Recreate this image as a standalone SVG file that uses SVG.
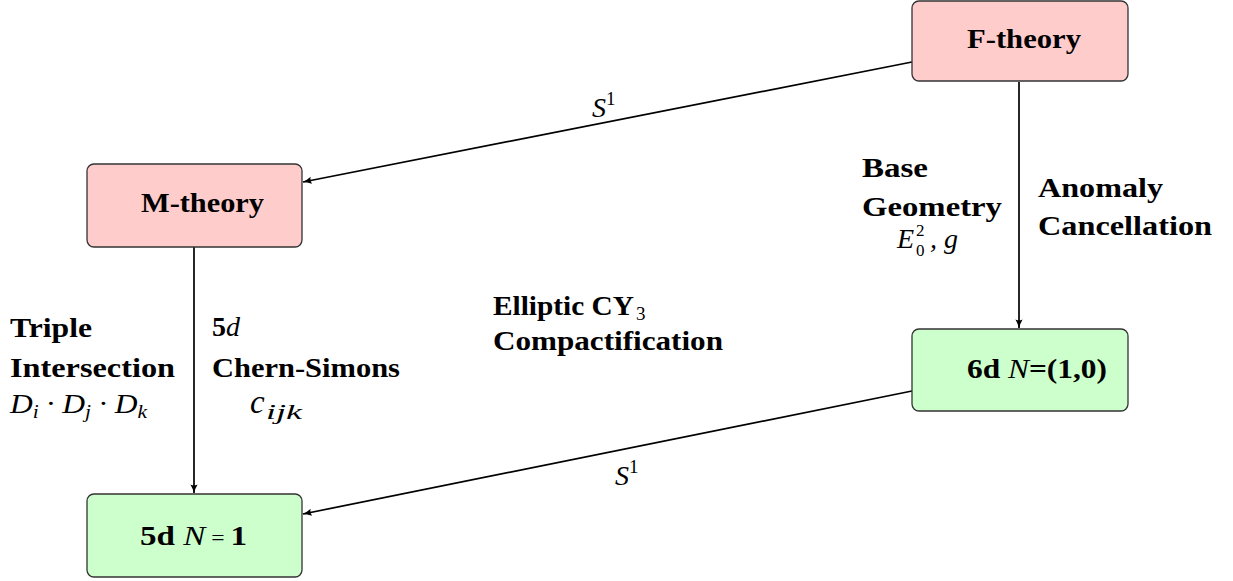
<svg xmlns="http://www.w3.org/2000/svg" width="1233" height="581" viewBox="0 0 1233 581">
<style>
.box{stroke:#333;stroke-width:1.3}
.pink{fill:#ffcccc}
.green{fill:#ccffcc}
.b{font-family:"Liberation Serif","Times New Roman",serif;font-weight:bold;font-size:28px;fill:#000}
.m{font-family:"Liberation Serif","Times New Roman",serif;font-style:italic;font-size:28px;fill:#000}
.r{font-family:"Liberation Serif","Times New Roman",serif;font-size:19px;fill:#000}
.s{font-family:"Liberation Serif","Times New Roman",serif;font-size:17px;fill:#000}
.si{font-family:"Liberation Serif","Times New Roman",serif;font-style:italic;font-size:19px;fill:#000}
.edge{stroke:#000;stroke-width:1.7;fill:none}
</style>
<defs>
<marker id="arr" viewBox="0 0 10 10" refX="9.5" refY="5" markerWidth="9" markerHeight="9" orient="auto" markerUnits="userSpaceOnUse">
<path d="M0,1 Q5,4 10,5 Q5,6 0,9 Q2,5 0,1 Z" fill="#000"/>
</marker>
</defs>
<g id="connectors">
<line class="edge" x1="912" y1="62" x2="303" y2="182" marker-end="url(#arr)"/>
<line class="edge" x1="1019" y1="82" x2="1019" y2="328" marker-end="url(#arr)"/>
<line class="edge" x1="194" y1="247" x2="194" y2="493" marker-end="url(#arr)"/>
<line class="edge" x1="912" y1="391" x2="303" y2="514" marker-end="url(#arr)"/>
</g>
<g id="node-ftheory">
<rect class="box pink" x="912" y="1" width="216" height="80" rx="7"/>
<text class="b" x="967" y="48" textLength="114" lengthAdjust="spacingAndGlyphs">F-theory</text>
</g>
<g id="node-mtheory">
<rect class="box pink" x="87" y="164" width="215" height="83" rx="7"/>
<text class="b" x="141" y="212" textLength="123" lengthAdjust="spacingAndGlyphs">M-theory</text>
</g>
<g id="node-6d">
<rect class="box green" x="912" y="329" width="216" height="82" rx="7"/>
<text x="967" y="378" textLength="140" lengthAdjust="spacingAndGlyphs"><tspan class="b">6d </tspan><tspan class="m">N</tspan><tspan class="b">=(1,0)</tspan></text>
</g>
<g id="node-5d">
<rect class="box green" x="87" y="494" width="215" height="83" rx="7"/>
<text x="140" y="545" textLength="107" lengthAdjust="spacingAndGlyphs"><tspan class="b">5d </tspan><tspan class="m">N</tspan><tspan class="b" style="font-weight:normal;font-size:20px"> = </tspan><tspan class="b">1</tspan></text>
</g>
<g id="labels">
<text x="592" y="117"><tspan class="m">S</tspan><tspan class="r" dy="-12">1</tspan></text>
<text x="615" y="485"><tspan class="m">S</tspan><tspan class="r" dy="-12">1</tspan></text>
<text class="b" x="862" y="177" textLength="66" lengthAdjust="spacingAndGlyphs">Base</text>
<text class="b" x="862" y="216" textLength="140" lengthAdjust="spacingAndGlyphs">Geometry</text>
<text class="m" x="897" y="248">E</text>
<text class="s" x="916" y="236">2</text>
<text class="s" x="916" y="256">0</text>
<text class="m" x="930" y="248">, g</text>
<text class="b" x="1038" y="197" textLength="125" lengthAdjust="spacingAndGlyphs">Anomaly</text>
<text class="b" x="1038" y="235" textLength="174" lengthAdjust="spacingAndGlyphs">Cancellation</text>
<text class="b" x="10" y="337" textLength="82" lengthAdjust="spacingAndGlyphs">Triple</text>
<text class="b" x="10" y="377" textLength="165" lengthAdjust="spacingAndGlyphs">Intersection</text>
<text x="10" y="413" textLength="137" lengthAdjust="spacingAndGlyphs"><tspan class="m">D</tspan><tspan class="si" dy="5">i</tspan><tspan class="m" dy="-5"> · D</tspan><tspan class="si" dy="5">j</tspan><tspan class="m" dy="-5"> · D</tspan><tspan class="si" dy="5">k</tspan></text>
<text x="212" y="336"><tspan class="b">5</tspan><tspan class="m">d</tspan></text>
<text class="b" x="212" y="377" textLength="188" lengthAdjust="spacingAndGlyphs">Chern-Simons</text>
<text class="m" x="250" y="413" style="font-size:33px">c</text>
<text class="si" x="266" y="419" style="font-size:21px" textLength="36" lengthAdjust="spacingAndGlyphs">ijk</text>
<text class="b" x="493" y="315" textLength="141" lengthAdjust="spacingAndGlyphs">Elliptic CY</text>
<text class="r" x="636" y="320">3</text>
<text class="b" x="493" y="350" textLength="230" lengthAdjust="spacingAndGlyphs">Compactification</text>
</g>
</svg>
